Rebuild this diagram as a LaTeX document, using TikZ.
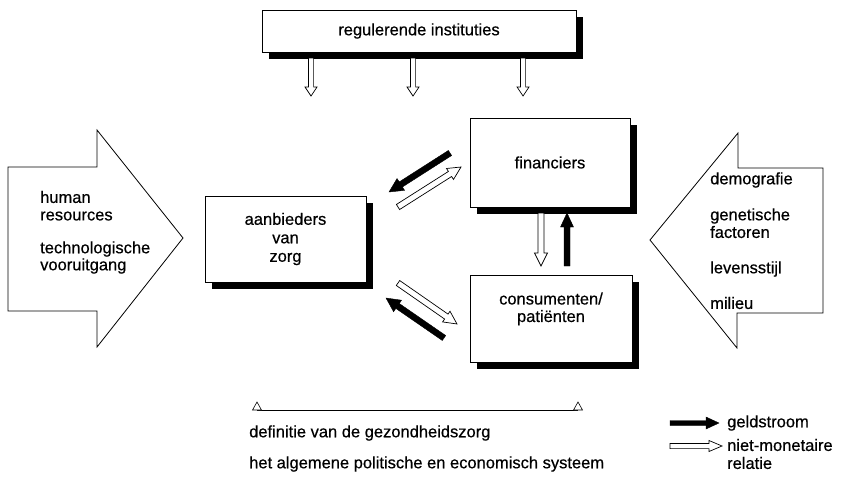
\documentclass[tikz,border=0pt]{standalone}
\usepackage{fontspec}
\setmainfont{Liberation Sans}[FakeBold=0.5]
\usetikzlibrary{calc,shadows}

% flat arrow polygon from #2 to #3: shaft half width #4, head half width #5, head length #6
\newcommand\flatarrow[6][draw]{%
  \path[#1] let \p1=(#2), \p2=(#3), \n1={atan2(\y2-\y1,\x2-\x1)}, \n2={veclen(\x2-\x1,\y2-\y1)} in
    {[shift={(\p1)}, rotate=\n1, x=1pt, y=1pt]
     (0,-#4) -- (\n2-#6,-#4) -- (\n2-#6,-#5) -- (\n2,0) -- (\n2-#6,#5) -- (\n2-#6,#4) -- (0,#4) -- cycle};}

\tikzset{
  txt/.style={font=\fontsize{16.5}{18}\selectfont, inner sep=0pt},
  boxnode/.style={draw, line width=0.6pt, fill=white, align=center,
    font=\fontsize{16.5}{18.5}\selectfont,
    general shadow={fill=black, shadow xshift=6.5pt, shadow yshift=-6.5pt}},
  bigarrow/.style={draw, line width=0.8pt, fill=white},
  money/.style={draw=black, fill=black, line width=0.4pt},
  nonmon/.style={draw=black, fill=white, line width=0.7pt},
}

\begin{document}
\begin{tikzpicture}[x=1pt,y=-1pt]
\useasboundingbox (0,0) rectangle (843,477);

% big side arrows
\draw[bigarrow] (8,167) -- (97,167) -- (97,130) -- (183,238) -- (97,347) -- (97,311) -- (8,311) -- cycle;
\draw[bigarrow] (823,168) -- (738,168) -- (738,133) -- (650,240) -- (737,348) -- (737,313) -- (823,313) -- cycle;

\node[txt, anchor=west] (hr1) at (40,197) {human};
\node[txt, anchor=west] (hr2) at (40,216) {resources};
\node[txt, anchor=west] (tv1) at (40,249) {technologische};
\node[txt, anchor=west] (tv2) at (40,266) {vooruitgang};

\node[txt, anchor=west] (dm) at (710,180) {demografie};
\node[txt, anchor=west] (gf1) at (710,216) {genetische};
\node[txt, anchor=west] (gf2) at (710,232) {factoren};
\node[txt, anchor=west] (ls) at (710,269) {levensstijl};
\node[txt, anchor=west] (ml) at (710,303) {milieu};

% boxes
\node[boxnode, minimum width=314pt, minimum height=42pt] (reg) at (419,31) {regulerende instituties};
\node[boxnode, minimum width=161pt, minimum height=86pt] (aan) at (285.5,239) {aanbieders\\van\\zorg};
\node[boxnode, minimum width=160pt, minimum height=89pt] (fin) at (550,162.5) {financiers};
\node[boxnode, minimum width=162pt, minimum height=87pt] (con) at (551,318.5) {consumenten/\\[-1pt]patiënten\\[4pt]};

% arrows from regulating institutions
\coordinate (r1s) at (311,58); \coordinate (r1e) at (311,96);
\coordinate (r2s) at (413,58); \coordinate (r2e) at (413,96);
\coordinate (r3s) at (523,58); \coordinate (r3e) at (523,96);
\flatarrow[nonmon]{r1s}{r1e}{2.6}{6}{9}
\flatarrow[nonmon]{r2s}{r2e}{2.6}{6}{9}
\flatarrow[nonmon]{r3s}{r3e}{2.6}{6}{9}

% financiers <-> aanbieders
\coordinate (fa1s) at (450,153); \coordinate (fa1e) at (389,192);
\coordinate (fa2s) at (398,207); \coordinate (fa2e) at (461,167);
\flatarrow[money]{fa1s}{fa1e}{3}{7}{14}
\flatarrow[nonmon]{fa2s}{fa2e}{3}{6.5}{13}

% financiers <-> consumenten
\coordinate (fc1s) at (541,213); \coordinate (fc1e) at (541,266);
\coordinate (fc2s) at (567,266); \coordinate (fc2e) at (567,213);
\flatarrow[nonmon]{fc1s}{fc1e}{3}{6.5}{13}
\flatarrow[money]{fc2s}{fc2e}{3}{6.5}{14}

% consumenten <-> aanbieders
\coordinate (ca1s) at (398,283); \coordinate (ca1e) at (457,324);
\coordinate (ca2s) at (444,338); \coordinate (ca2e) at (386,298);
\flatarrow[nonmon]{ca1s}{ca1e}{3}{6.5}{13}
\flatarrow[money]{ca2s}{ca2e}{3}{7}{14}

% bottom scale line
\coordinate (dl) at (257,410); \coordinate (dr) at (578,410);
\draw[line width=0.7pt] (dl) -- (dr);
\draw[line width=0.6pt, fill=white] (252.5,410) -- (257,402) -- (261.5,410) -- cycle;
\draw[line width=0.6pt, fill=white] (573.5,410) -- (578,402) -- (582.5,410) -- cycle;

\node[txt, anchor=west] (def) at (249,433) {definitie van de gezondheidszorg};
\node[txt, anchor=west] (sys) at (249,464) {het algemene politische en economisch systeem};

% legend
\coordinate (l1s) at (670,423); \coordinate (l1e) at (719,423);
\coordinate (l2s) at (670,446); \coordinate (l2e) at (722,446);
\flatarrow[money]{l1s}{l1e}{2.5}{6}{13}
\flatarrow[nonmon]{l2s}{l2e}{2.6}{5.5}{13}
\node[txt, anchor=west] (lg1) at (727,423) {geldstroom};
\node[txt, anchor=west] (lg2) at (727,445) {niet-monetaire};
\node[txt, anchor=west] (lg3) at (727,463) {relatie};
\end{tikzpicture}
\end{document}
